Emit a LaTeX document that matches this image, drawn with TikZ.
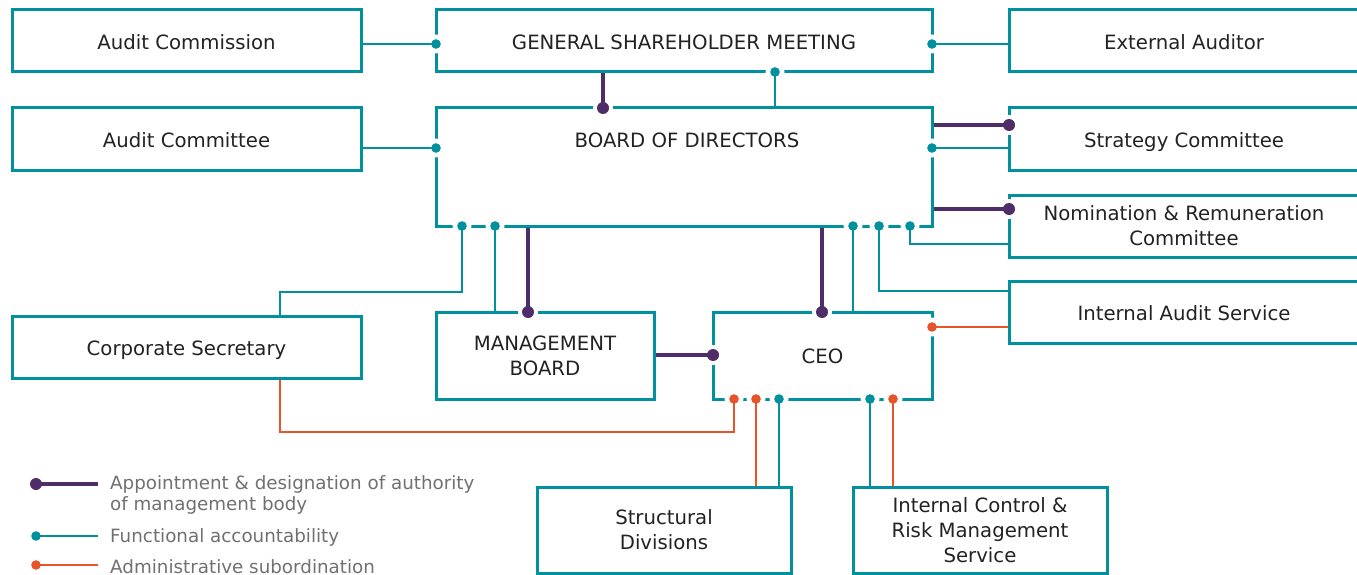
\documentclass[tikz,border=0pt]{standalone}
\usepackage{fontspec}
\setmainfont{DejaVu Sans}
\usetikzlibrary{calc}
\definecolor{tealc}{HTML}{00909E}
\definecolor{purp}{HTML}{4E2D69}
\definecolor{oran}{HTML}{E8542A}
\definecolor{ink}{HTML}{222222}
\definecolor{leggray}{HTML}{707070}
\begin{document}
\begin{tikzpicture}[x=1pt,y=-1pt,
  box/.style={draw=tealc, line width=3pt, inner sep=0pt, align=center,
    font=\fontsize{19.7}{25}\selectfont, text=ink},
  oneline/.style={text height=20pt, text depth=3.6pt},
  lbl/.style={inner sep=0pt, align=center, font=\fontsize{19.7}{25}\selectfont, text=ink},
  leg/.style={inner sep=0pt, anchor=base west, font=\fontsize{18.3}{21}\selectfont, text=leggray},
  fa/.style={draw=tealc, line width=2pt},
  ap/.style={draw=purp, line width=4pt},
  ad/.style={draw=oran, line width=2pt},
  halo/.style={fill=white},
]
\useasboundingbox (0,0) rectangle (1357,575);

% ---- boxes ----
\node[box, oneline, minimum width=349pt, minimum height=62pt] (ac)  at (186.5,41) {Audit Commission};
\node[box, oneline, minimum width=496pt, minimum height=62pt] (gsm) at (684,41) {GENERAL SHAREHOLDER MEETING};
\node[box, oneline, minimum width=350pt, minimum height=62pt] (ea)  at (1184,41) {External Auditor};
\node[box, oneline, minimum width=349pt, minimum height=62pt] (acm) at (186.5,139) {Audit Committee};
\node[box, minimum width=496pt, minimum height=118pt] (bod) at (684,167) {};
\node[lbl, oneline] (bodt) at (687,139) {BOARD OF DIRECTORS};
\node[box, oneline, minimum width=350pt, minimum height=62pt] (sc)  at (1184,139) {Strategy Committee};
\node[box, minimum width=350pt, minimum height=62pt] (nrc) at (1184,226) {Nomination \& Remuneration\\Committee};
\node[box, oneline, minimum width=350pt, minimum height=62pt] (ias) at (1184,312) {Internal Audit Service};
\node[box, oneline, minimum width=349pt, minimum height=62pt] (cs)  at (186.5,347) {Corporate Secretary};
\node[box, minimum width=218pt, minimum height=87pt] (mb)  at (545,355.5) {MANAGEMENT\\BOARD};
\node[box, oneline, minimum width=219pt, minimum height=87pt] (ceo) at (822.5,355.5) {CEO};
\node[box, minimum width=254pt, minimum height=86pt] (sd)  at (664,530) {Structural\\Divisions};
\node[box, minimum width=254pt, minimum height=86pt] (icr) at (980,530) {Internal Control \&\\Risk Management\\Service};

% ---- dot positions ----
\coordinate (t1) at (436,44);  \coordinate (t2) at (932,44);
\coordinate (t3) at (775,72);  \coordinate (t4) at (436,148);
\coordinate (t5) at (932,148); \coordinate (t6) at (462,226);
\coordinate (t7) at (495,226); \coordinate (t8) at (853,226);
\coordinate (t9) at (879,226); \coordinate (t10) at (910,226);
\coordinate (t11) at (779,399); \coordinate (t12) at (870,399);
\coordinate (p1) at (603,108); \coordinate (p2) at (1009,125);
\coordinate (p3) at (1009,209); \coordinate (p4) at (528,312);
\coordinate (p5) at (822,312); \coordinate (p6) at (713,355);
\coordinate (o1) at (932,327); \coordinate (o2) at (734,399);
\coordinate (o3) at (756,399); \coordinate (o4) at (893,399);
% bends of routed connectors
\coordinate (j1) at (280,292);  \coordinate (j2) at (1009,291);
\coordinate (j3) at (1009,244); \coordinate (j4) at (280,432);

% ---- white gaps in the borders around the dots ----
\foreach \c in {t1,t2,t3,t4,t5,t6,t7,t8,t9,t10,t11,t12,o1,o2,o3,o4}
  \fill[halo] (\c) circle (9.5pt);
\foreach \c in {p1,p2,p3,p4,p5,p6}
  \fill[halo] (\c) circle (10pt);

% ---- functional accountability ----
\draw[fa] (ac.east |- t1) -- (t1);
\draw[fa] (t2) -- (ea.west |- t2);
\draw[fa] (t3) -- (t3 |- bod.north);
\draw[fa] (acm.east |- t4) -- (t4);
\draw[fa] (t5) -- (sc.west |- t5);
\draw[fa] (t6) |- (j1) -- (j1 |- cs.north);
\draw[fa] (t7) -- (t7 |- mb.north);
\draw[fa] (t8) -- (t8 |- ceo.north);
\draw[fa] (t9) |- (j2);
\draw[fa] (t10) |- (j3);
\draw[fa] (t11) -- (t11 |- sd.north);
\draw[fa] (t12) -- (t12 |- icr.north);

% ---- appointment ----
\draw[ap] (p1 |- gsm.south) -- (p1);
\draw[ap] (bod.east |- p2) -- (p2);
\draw[ap] (bod.east |- p3) -- (p3);
\draw[ap] (p4 |- bod.south) -- (p4);
\draw[ap] (p5 |- bod.south) -- (p5);
\draw[ap] (mb.east |- p6) -- (p6);

% ---- administrative subordination ----
\draw[ad] (o1) -- (ias.west |- o1);
\draw[ad] (o2) |- (j4) -- (j4 |- cs.south);
\draw[ad] (o3) -- (o3 |- sd.north);
\draw[ad] (o4) -- (o4 |- icr.north);

% ---- dots ----
\foreach \c in {t1,t2,t3,t4,t5,t6,t7,t8,t9,t10,t11,t12}
  \fill[tealc] (\c) circle (4.8pt);
\foreach \c in {p1,p2,p3,p4,p5,p6}
  \fill[purp] (\c) circle (6pt);
\foreach \c in {o1,o2,o3,o4}
  \fill[oran] (\c) circle (4.8pt);

% ---- legend ----
\coordinate (la) at (36,484); \coordinate (lb) at (98,484);
\coordinate (lc) at (36,536); \coordinate (ld) at (98,536);
\coordinate (le) at (36,565); \coordinate (lf) at (98,565);
\draw[ap] (la) -- (lb); \fill[purp] (la) circle (6pt);
\draw[fa] (lc) -- (ld); \fill[tealc] (lc) circle (4.8pt);
\draw[ad] (le) -- (lf); \fill[oran] (le) circle (4.8pt);
\node[leg] (l1a) at (110,489) {Appointment \& designation of authority};
\node[leg] (l1b) at (110,510) {of management body};
\node[leg] (l2)  at (110,542) {Functional accountability};
\node[leg] (l3)  at (110,573) {Administrative subordination};
\end{tikzpicture}
\end{document}
